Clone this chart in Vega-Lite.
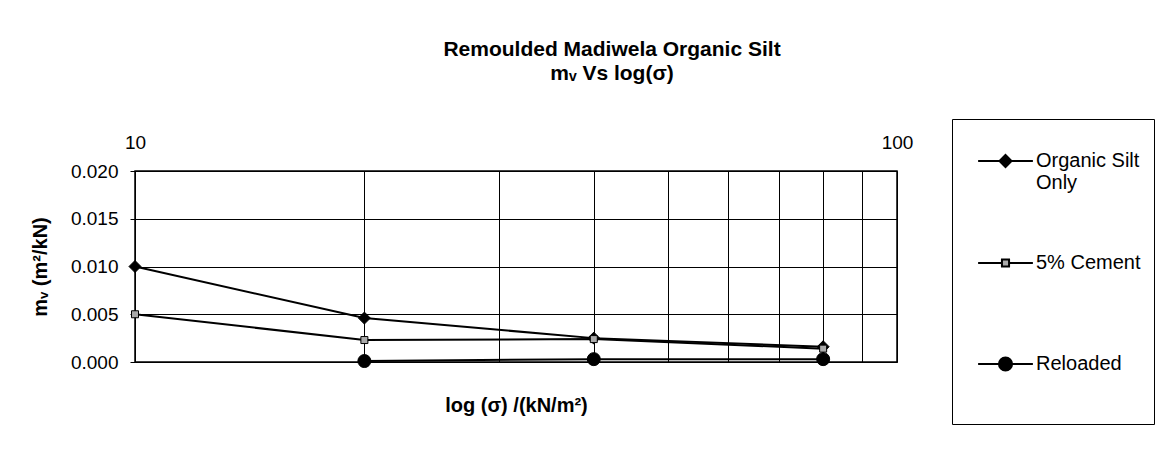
{
  "$schema": "https://vega.github.io/schema/vega-lite/v6.json",
  "width": 762,
  "height": 191,
  "autosize": {"type": "none"},
  "padding": {"left": 135, "top": 171, "right": 274, "bottom": 93},
  "background": "white",
  "config": {
    "font": "Liberation Sans",
    "view": {"stroke": "black", "strokeWidth": 1.5},
    "axis": {"labelColor": "black", "titleColor": "black", "labelFontSize": 19, "titleFontSize": 20, "titleFontWeight": "bold", "gridColor": "black", "gridOpacity": 1, "gridWidth": 1}
  },
  "title": {
    "text": "Remoulded Madiwela Organic Silt",
    "subtitle": "mᵥ Vs log(σ)",
    "fontSize": 21,
    "fontWeight": "bold",
    "color": "black",
    "subtitleFontSize": 21,
    "subtitleFontWeight": "bold",
    "subtitleColor": "black",
    "subtitleFont": "Liberation Sans",
    "subtitlePadding": 3,
    "anchor": "middle",
    "frame": "group",
    "dx": 96,
    "offset": 35
  },
  "data": {
    "values": [
      {"series": "Organic Silt Only", "sigma": 10, "mv": 0.0100},
      {"series": "Organic Silt Only", "sigma": 20, "mv": 0.0046},
      {"series": "Organic Silt Only", "sigma": 40, "mv": 0.0025},
      {"series": "Organic Silt Only", "sigma": 80, "mv": 0.0016},
      {"series": "5% Cement", "sigma": 10, "mv": 0.0050},
      {"series": "5% Cement", "sigma": 20, "mv": 0.0023},
      {"series": "5% Cement", "sigma": 40, "mv": 0.0024},
      {"series": "5% Cement", "sigma": 80, "mv": 0.0014},
      {"series": "Reloaded", "sigma": 20, "mv": 0.0001},
      {"series": "Reloaded", "sigma": 40, "mv": 0.0003},
      {"series": "Reloaded", "sigma": 80, "mv": 0.0003}
    ]
  },
  "encoding": {
    "x": {
      "field": "sigma",
      "type": "quantitative",
      "scale": {"type": "log", "domain": [10, 100], "nice": false},
      "axis": {
        "orient": "top",
        "values": [10, 20, 30, 40, 50, 60, 70, 80, 90, 100],
        "labelExpr": "datum.value == 10 || datum.value == 100 ? datum.label : ''",
        "grid": true,
        "domain": false,
        "ticks": false,
        "tickSize": 0,
        "labelPadding": 19,
        "labelFlush": false,
        "title": "log (σ) /(kN/m²)",
        "titleY": 240,
        "titleBaseline": "alphabetic"
      }
    },
    "y": {
      "field": "mv",
      "type": "quantitative",
      "scale": {"domain": [0, 0.02], "nice": false},
      "axis": {
        "values": [0, 0.005, 0.01, 0.015, 0.02],
        "format": ".3f",
        "grid": true,
        "domain": false,
        "ticks": true,
        "tickSize": 5,
        "tickColor": "black",
        "labelPadding": 12,
        "title": "mᵥ (m²/kN)",
        "titleX": -95,
        "titleY": 95.5,
        "titleAngle": -90,
        "titleAlign": "center",
        "titleBaseline": "middle"
      }
    }
  },
  "layer": [
    {
      "mark": {"type": "line", "color": "black", "strokeWidth": 2},
      "encoding": {"detail": {"field": "series"}}
    },
    {
      "transform": [{"filter": "datum.series == 'Organic Silt Only'"}],
      "mark": {"type": "point", "shape": "diamond", "filled": true, "opacity": 1, "fill": "black", "stroke": "black", "strokeWidth": 1, "size": 144}
    },
    {
      "transform": [{"filter": "datum.series == '5% Cement'"}],
      "mark": {"type": "point", "shape": "square", "filled": true, "opacity": 1, "fill": "#aaaaaa", "stroke": "black", "strokeWidth": 1, "size": 49}
    },
    {
      "transform": [{"filter": "datum.series == 'Reloaded'"}],
      "mark": {"type": "point", "shape": "circle", "filled": true, "opacity": 1, "fill": "black", "stroke": "black", "strokeWidth": 1, "size": 169}
    },
    {
      "transform": [{"filter": "false"}],
      "mark": {"type": "point", "filled": true, "opacity": 1, "strokeWidth": 2},
      "encoding": {
        "shape": {
          "field": "series",
          "type": "nominal",
          "scale": {
            "domain": ["Organic Silt Only", "5% Cement", "Reloaded"],
            "range": [
              "M0.42,-1L0.42,-1M0.42,1L0.42,1M-0.58,0H1.42M0.42,-0.22L0.64,0L0.42,0.22L0.2,0Z",
              "M0.42,-1L0.42,-1M0.42,1L0.42,1M-0.58,0H0.29M0.55,0H1.42M0.29,-0.13H0.55V0.13H0.29Z",
              "M0.42,-1L0.42,-1M0.42,1L0.42,1M-0.58,0H1.42M0.18,0A0.24,0.24,0,1,1,0.66,0A0.24,0.24,0,1,1,0.18,0Z"
            ]
          },
          "legend": {
            "orient": "none",
            "legendX": 817,
            "legendY": -52,
            "title": " ",
            "titleOrient": "bottom",
            "titleFontSize": 15,
            "titlePadding": 0,
            "padding": 13.5,
            "strokeColor": "black",
            "fillColor": "white",
            "symbolSize": 3000,
            "symbolStrokeWidth": 2,
            "symbolOpacity": 1,
            "labelFontSize": 20,
            "labelColor": "black",
            "labelOffset": 13.5,
            "labelLimit": 300,
            "labelBaseline": "middle",
            "labelLineHeight": 25,
            "rowPadding": 38,
            "labelExpr": "datum.label == 'Organic Silt Only' ? ['Organic Silt', 'Only'] : datum.label"
          }
        },
        "fill": {
          "field": "series",
          "type": "nominal",
          "scale": {"domain": ["Organic Silt Only", "5% Cement", "Reloaded"], "range": ["black", "#aaaaaa", "black"]}
        },
        "stroke": {
          "field": "series",
          "type": "nominal",
          "scale": {"domain": ["Organic Silt Only", "5% Cement", "Reloaded"], "range": ["black", "black", "black"]}
        }
      }
    }
  ]
}
